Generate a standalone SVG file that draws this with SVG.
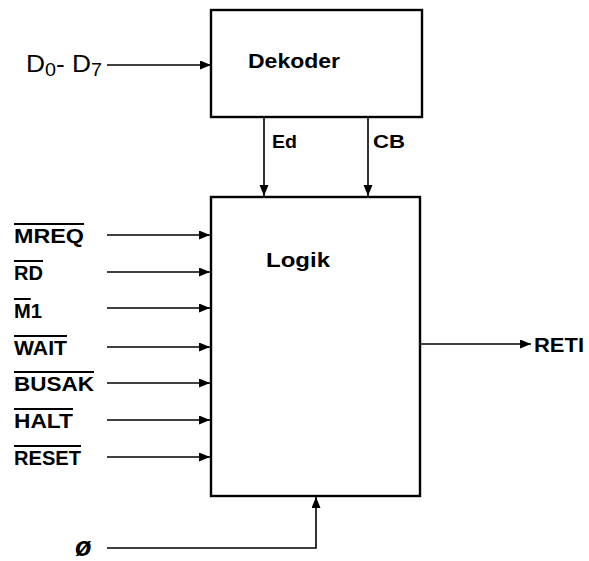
<svg xmlns="http://www.w3.org/2000/svg" width="589" height="561" viewBox="0 0 589 561">
<style>
.box{fill:#fff;stroke:#000;stroke-width:2.4}
.wire{fill:none;stroke:#000;stroke-width:1.6}
.t{font-family:"Liberation Sans",Arial,sans-serif;font-weight:bold;fill:#000}
.sig{font-size:20px}
.ov{text-decoration:overline}
</style>
<defs>
<marker id="ah" markerUnits="userSpaceOnUse" markerWidth="12" markerHeight="10" refX="11" refY="4.5" orient="auto">
<path d="M0,0 L11,4.5 L0,9 z" fill="#000"/>
</marker>
</defs>
<rect width="589" height="561" fill="#fff"/>
<g id="dekoder">
<rect class="box" x="211" y="10" width="211" height="107"/>
<text class="t" x="248" y="68" font-size="21" textLength="92" lengthAdjust="spacingAndGlyphs">Dekoder</text>
</g>
<g id="logik">
<rect class="box" x="211" y="197" width="209" height="299"/>
<text class="t" x="266" y="267" font-size="20" textLength="64" lengthAdjust="spacingAndGlyphs">Logik</text>
</g>
<g id="connectors">
<line class="wire" x1="107" y1="65" x2="211" y2="65" marker-end="url(#ah)"/>
<line class="wire" x1="264" y1="117" x2="264" y2="196" marker-end="url(#ah)"/>
<line class="wire" x1="368" y1="117" x2="368" y2="196" marker-end="url(#ah)"/>
<line class="wire" x1="107" y1="235" x2="210" y2="235" marker-end="url(#ah)"/>
<line class="wire" x1="107" y1="272" x2="210" y2="272" marker-end="url(#ah)"/>
<line class="wire" x1="107" y1="308" x2="210" y2="308" marker-end="url(#ah)"/>
<line class="wire" x1="107" y1="347" x2="210" y2="347" marker-end="url(#ah)"/>
<line class="wire" x1="107" y1="383" x2="210" y2="383" marker-end="url(#ah)"/>
<line class="wire" x1="107" y1="420" x2="210" y2="420" marker-end="url(#ah)"/>
<line class="wire" x1="107" y1="457" x2="210" y2="457" marker-end="url(#ah)"/>
<line class="wire" x1="421" y1="344" x2="531" y2="344" marker-end="url(#ah)"/>
<polyline class="wire" points="107,548 316,548 316,497" marker-end="url(#ah)"/>
</g>
<g id="labels">
<text class="t" x="26" y="72" font-size="24" style="font-weight:normal" textLength="76" lengthAdjust="spacingAndGlyphs">D<tspan font-size="18" dy="4">0</tspan><tspan dy="-4">- D</tspan><tspan font-size="18" dy="4">7</tspan></text>
<text class="t" x="272" y="148" font-size="19" textLength="25" lengthAdjust="spacingAndGlyphs">Ed</text>
<text class="t" x="373" y="148" font-size="19" textLength="32" lengthAdjust="spacingAndGlyphs">CB</text>
<text class="t sig ov" x="14" y="243" textLength="70" lengthAdjust="spacingAndGlyphs">MREQ</text>
<text class="t sig ov" x="14" y="280" textLength="29" lengthAdjust="spacingAndGlyphs">RD</text>
<text class="t sig" x="14" y="318" textLength="28" lengthAdjust="spacingAndGlyphs"><tspan class="ov">M</tspan>1</text>
<text class="t sig ov" x="14" y="355" textLength="53" lengthAdjust="spacingAndGlyphs">WAIT</text>
<text class="t sig ov" x="14" y="391" textLength="80" lengthAdjust="spacingAndGlyphs">BUSAK</text>
<text class="t sig ov" x="14" y="428" textLength="59" lengthAdjust="spacingAndGlyphs">HALT</text>
<text class="t sig ov" x="14" y="465" textLength="67" lengthAdjust="spacingAndGlyphs">RESET</text>
<text class="t" x="534" y="352" font-size="20" textLength="50" lengthAdjust="spacingAndGlyphs">RETI</text>
<text class="t" x="75" y="556" font-size="27" font-style="italic">ø</text>
</g>
</svg>
